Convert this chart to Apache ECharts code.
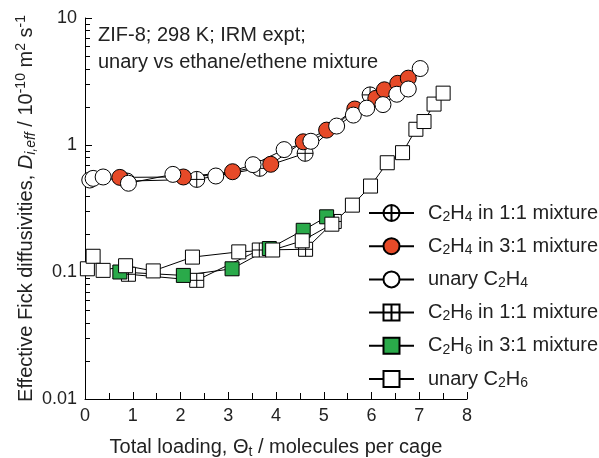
<!DOCTYPE html>
<html>
<head>
<meta charset="utf-8">
<script src="https://cdn.jsdelivr.net/npm/echarts@6/dist/echarts.min.js"></script>
<style>
  html, body { margin: 0; padding: 0; background: #fff; }
  #chart { width: 599px; height: 458px; }
</style>
</head>
<body>
<div id="chart"></div>
<script>
// loading (molecules per cage) and diffusivity (10^-10 m2/s)
const c2h4Mix11X = [0.88, 2.34, 3.66, 4.61, 5.97]
const c2h4Mix11Y = [0.52, 0.536, 0.655, 0.86, 2.48]

const c2h4Mix31X = [0.73, 2.06, 3.09, 3.89, 4.57, 5.06, 5.65, 6.09, 6.27, 6.55, 6.77]
const c2h4Mix31Y = [0.556, 0.56, 0.616, 0.705, 1.06, 1.31, 1.92, 2.33, 2.72, 3.06, 3.36]

const c2h4UnaryX = [0.10, 0.17, 0.38, 0.91, 1.84, 2.74, 3.52, 4.17, 4.73, 5.27, 5.62, 5.90, 6.24, 6.53, 6.77, 7.02]
const c2h4UnaryY = [0.53, 0.546, 0.56, 0.50, 0.587, 0.57, 0.70, 0.92, 1.07, 1.41, 1.72, 1.95, 2.08, 2.51, 2.76, 4.0]

const c2h6Mix11X = [0.91, 2.34, 3.65, 4.62, 5.22]
const c2h6Mix11Y = [0.096, 0.086, 0.149, 0.151, 0.25]

const c2h6Mix31X = [0.73, 2.06, 3.08, 3.86, 4.57, 5.06]
const c2h6Mix31Y = [0.100, 0.094, 0.106, 0.153, 0.213, 0.272]

const c2h6UnaryX = [0.05, 0.17, 0.38, 0.85, 1.43, 2.25, 3.22, 3.93, 4.55, 5.17, 5.60, 5.98, 6.33, 6.65, 6.93, 7.10, 7.31, 7.50]
const c2h6UnaryY = [0.106, 0.133, 0.103, 0.112, 0.102, 0.131, 0.144, 0.149, 0.176, 0.238, 0.336, 0.475, 0.725, 0.87, 1.33, 1.53, 2.1, 2.56]

const seriesNames = [
    'C2H4 in 1:1 mixture',
    'C2H4 in 3:1 mixture',
    'unary C2H4',
    'C2H6 in 1:1 mixture',
    'C2H6 in 3:1 mixture',
    'unary C2H6'
]

// log axis minor ticks (2..9 in each decade)
const yDecades = [0.01, 0.1, 1]
const yMinorSteps = [2, 3, 4, 5, 6, 7, 8, 9]

const FONT = "'Liberation Sans', Arial, sans-serif"
const TEXT = '#222'
const RED = '#e64a28'
const GREEN = '#2aaa4a'

// symbols
const crossCircle = 'path://M0,-10A10,10,0,1,1,0,10A10,10,0,1,1,0,-10ZM-10,0L10,0M0,-10L0,10'
const crossSquare = 'path://M-10,-10L10,-10L10,10L-10,10ZM-10,0L10,0M0,-10L0,10'

const zip = (xs, ys) => xs.map((x, i) => [x, ys[i]])

const lineSeries = (name, xs, ys, symbol, fill, size) => ({
    name: name,
    type: 'line',
    data: zip(xs, ys),
    symbol: symbol,
    symbolSize: size,
    showAllSymbol: true,
    lineStyle: { color: '#000', width: 1 },
    itemStyle: { color: fill, borderColor: '#000', borderWidth: 1, opacity: 1 },
    emphasis: { disabled: true }
})

const minorTicks = []
yDecades.forEach(d => yMinorSteps.forEach(s => minorTicks.push([0, +(d * s).toPrecision(3)])))

const sub = { fontSize: 14, fontFamily: FONT, color: TEXT, padding: [10, 0, 0, 0] }
const sup = { fontSize: 14, fontFamily: FONT, color: TEXT, padding: [0, 0, 10, 0] }

const chart = echarts.init(document.getElementById('chart'))
const option = {
    animation: false,
    backgroundColor: '#fff',
    textStyle: { fontFamily: FONT },
    grid: { left: 85, right: 132, top: 18, bottom: 59, outerBoundsMode: 'none' },
    graphic: [
        {
            type: 'text',
            left: 98,
            top: 22,
            style: {
                text: 'ZIF-8; 298 K; IRM expt;\nunary vs ethane/ethene mixture',
                font: '20px ' + FONT,
                lineHeight: 27,
                fill: TEXT
            }
        }
    ],
    legend: {
        orient: 'vertical',
        left: 368,
        top: 202,
        padding: 0,
        itemWidth: 45,
        itemHeight: 20,
        itemGap: 11.2,
        data: seriesNames,
        selectedMode: false,
        formatter: name => name.replace(/([CH])(\d)/g, '$1{s|$2}'),
        textStyle: {
            fontFamily: FONT,
            fontSize: 20,
            lineHeight: 20,
            color: TEXT,
            padding: [0, 0, 0, 9],
            rich: { s: { fontSize: 14, fontFamily: FONT, color: TEXT, lineHeight: 12, padding: [8, 0, 0, 0] } }
        }
    },
    xAxis: {
        type: 'value',
        min: 0,
        max: 8,
        interval: 1,
        name: 'Total loading, Θ{s|t} / molecules per cage',
        nameLocation: 'middle',
        nameGap: 36,
        nameMoveOverlap: false,
        nameTextStyle: {
            fontFamily: FONT,
            fontSize: 20,
            color: TEXT,
            rich: { s: sub }
        },
        axisLine: { lineStyle: { color: '#000', width: 1 } },
        axisTick: { inside: true, length: 7, lineStyle: { color: '#000' } },
        minorTick: { show: true, splitNumber: 2, length: 6, lineStyle: { color: '#000' } },
        axisLabel: { fontSize: 18, fontFamily: FONT, color: TEXT, margin: 8 },
        splitLine: { show: false }
    },
    yAxis: {
        type: 'log',
        logBase: 10,
        min: 0.01,
        max: 10,
        name: 'Effective Fick diffusivities, {i|D}{is|i,eff} / 10{sup|-10} m{sup|2} s{sup|-1}',
        nameLocation: 'middle',
        nameGap: 47,
        nameMoveOverlap: false,
        nameTextStyle: {
            fontFamily: FONT,
            fontSize: 20,
            color: TEXT,
            rich: {
                i: { fontSize: 20, fontStyle: 'italic', fontFamily: FONT, color: TEXT },
                is: Object.assign({}, sub, { fontStyle: 'italic' }),
                sup: sup
            }
        },
        axisLine: { show: true, lineStyle: { color: '#000', width: 1 } },
        axisTick: { inside: true, length: 7, lineStyle: { color: '#000' } },
        axisLabel: {
            fontSize: 18,
            fontFamily: FONT,
            color: TEXT,
            margin: 8,
            formatter: v => String(+(+v).toPrecision(3))
        },
        splitLine: { show: false }
    },
    series: [
        lineSeries(seriesNames[0], c2h4Mix11X, c2h4Mix11Y, crossCircle, '#fff', 16),
        lineSeries(seriesNames[1], c2h4Mix31X, c2h4Mix31Y, 'circle', RED, 16),
        lineSeries(seriesNames[2], c2h4UnaryX, c2h4UnaryY, 'circle', '#fff', 16),
        lineSeries(seriesNames[3], c2h6Mix11X, c2h6Mix11Y, crossSquare, '#fff', 14),
        lineSeries(seriesNames[4], c2h6Mix31X, c2h6Mix31Y, 'rect', GREEN, 14),
        lineSeries(seriesNames[5], c2h6UnaryX, c2h6UnaryY, 'rect', '#fff', 14),
        {
            type: 'custom',
            silent: true,
            z: 1,
            data: minorTicks,
            renderItem: (params, api) => {
                const p = api.coord([0, api.value(1)])
                return {
                    type: 'line',
                    shape: { x1: p[0], y1: Math.round(p[1]) + 0.5, x2: p[0] + 5, y2: Math.round(p[1]) + 0.5 },
                    style: { stroke: '#000', lineWidth: 1 }
                }
            }
        }
    ]
}
chart.setOption(option)
</script>
</body>
</html>
